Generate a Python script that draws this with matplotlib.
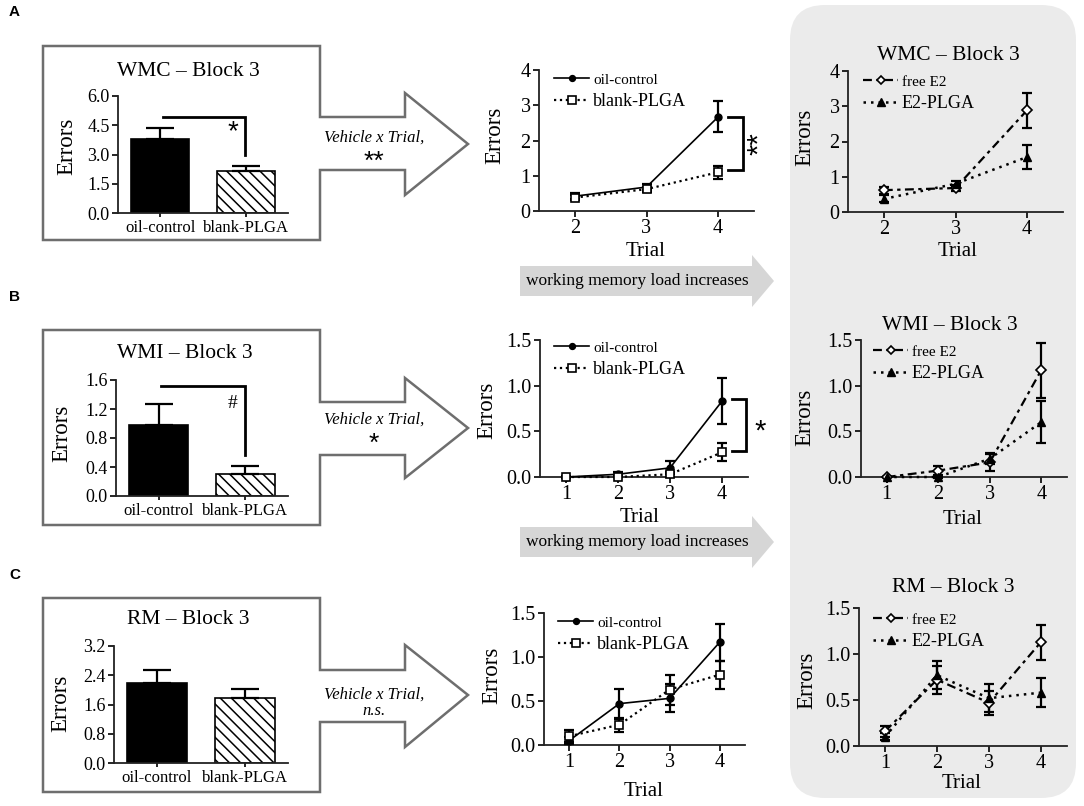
import matplotlib
matplotlib.use('Agg')
import matplotlib.pyplot as plt
from matplotlib.patches import Polygon, FancyBboxPatch
import numpy as np

W, H = 1084, 806
plt.rcParams['font.family'] = ['Liberation Serif', 'DejaVu Serif']
plt.rcParams['hatch.linewidth'] = 1.1

# ---------------- data ----------------
bar_groups = ['oil-control', 'blank-PLGA']
wmc_bar_mean = [3.79, 2.15]
wmc_bar_sem = [0.57, 0.26]
wmi_bar_mean = [0.98, 0.30]
wmi_bar_sem = [0.29, 0.11]
rm_bar_mean = [2.19, 1.78]
rm_bar_sem = [0.35, 0.25]

wmc_trials = [2, 3, 4]
wmc_oil = [0.42, 0.68, 2.67]
wmc_oil_err = [0.08, 0.08, 0.44]
wmc_blank = [0.38, 0.62, 1.10]
wmc_blank_err = [0.07, 0.07, 0.19]
wmc_free = [0.62, 0.68, 2.89]
wmc_free_err = [0.10, 0.08, 0.50]
wmc_e2plga = [0.37, 0.80, 1.56]
wmc_e2plga_err = [0.10, 0.08, 0.33]

trials = [1, 2, 3, 4]
wmi_oil = [0.00, 0.03, 0.10, 0.83]
wmi_oil_err = [0.01, 0.02, 0.07, 0.25]
wmi_blank = [0.00, 0.00, 0.03, 0.27]
wmi_blank_err = [0.00, 0.00, 0.03, 0.10]
wmi_free = [0.00, 0.07, 0.16, 1.17]
wmi_free_err = [0.00, 0.05, 0.09, 0.30]
wmi_e2plga = [0.00, 0.00, 0.20, 0.60]
wmi_e2plga_err = [0.00, 0.01, 0.06, 0.23]

rm_oil = [0.05, 0.47, 0.53, 1.17]
rm_oil_err = [0.04, 0.17, 0.16, 0.21]
rm_blank = [0.10, 0.23, 0.63, 0.80]
rm_blank_err = [0.07, 0.08, 0.17, 0.16]
rm_free = [0.16, 0.72, 0.47, 1.13]
rm_free_err = [0.06, 0.15, 0.13, 0.19]
rm_e2plga = [0.10, 0.77, 0.52, 0.58]
rm_e2plga_err = [0.04, 0.15, 0.15, 0.16]

# ---------------- figure ----------------
fig = plt.figure(figsize=(W / 100, H / 100), dpi=100)
bg = fig.add_axes([0, 0, 1, 1])
bg.set_xlim(0, W)
bg.set_ylim(H, 0)
bg.axis('off')
bg.set_zorder(0)

OUT = '#6e6e6e'
# grey background panel on the right
bg.add_patch(FancyBboxPatch((790, 5), 286, 793,
                            boxstyle='round,pad=0,rounding_size=35',
                            fc='#ebebeb', ec='none'))


def box_arrow(top, bottom, stem_top, stem_bot, head_top, head_bot, tip_y):
    pts = [(43, top), (320, top), (320, stem_top), (405, stem_top),
           (405, head_top), (468, tip_y), (405, head_bot), (405, stem_bot),
           (320, stem_bot), (320, bottom), (43, bottom)]
    bg.add_patch(Polygon(pts, closed=True, fc='white', ec=OUT, lw=1.8,
                         joinstyle='miter'))


box_arrow(46, 240, 117, 170, 93, 195, 144)
box_arrow(330, 525, 402, 455, 378, 478, 428)
box_arrow(598, 792, 670, 722, 645, 747, 695)


def load_arrow(cy):
    pts = [(520, cy - 15), (752, cy - 15), (752, cy - 26), (774, cy),
           (752, cy + 26), (752, cy + 15), (520, cy + 15)]
    bg.add_patch(Polygon(pts, closed=True, fc='#d6d6d6', ec='none'))
    bg.text(637, cy, 'working memory load increases', ha='center',
            va='center', fontsize=12.5)


load_arrow(281)
load_arrow(542)

# panel letters
for lab, y in [('A', 12), ('B', 297), ('C', 575)]:
    bg.text(9, y, lab, fontsize=11, fontweight='bold', va='center',
            ha='left', family='Liberation Sans')

# arrow texts
for y, stat in [(138, '**'), (420, '*'), (695, 'n.s.')]:
    bg.text(374, y, 'Vehicle x Trial,', ha='center', va='center',
            fontsize=12, style='italic')
    if stat == 'n.s.':
        bg.text(374, y + 16, stat, ha='center', va='center', fontsize=12,
                style='italic')
    else:
        bg.text(374, y + 24, stat, ha='center', va='center', fontsize=19,
                family='Liberation Sans')


def px_axes(left, top, right, bottom):
    ax = fig.add_axes([left / W, 1 - bottom / H, (right - left) / W,
                       (bottom - top) / H])
    ax.set_facecolor('none')
    ax.set_zorder(2)
    for s in ['top', 'right']:
        ax.spines[s].set_visible(False)
    for s in ['left', 'bottom']:
        ax.spines[s].set_linewidth(1.3)
        ax.spines[s].set_color('#222222')
    return ax


def place_labels(ax, ylab_xy, xlab_xy=None, xlabel=None, ysize=16.5, xsize=15):
    ax.set_ylabel('Errors', fontsize=ysize)
    ax.yaxis.label.set_verticalalignment('center')
    ax.yaxis.set_label_coords(ylab_xy[0], ylab_xy[1], transform=bg.transData)
    if xlabel is not None:
        ax.set_xlabel(xlabel, fontsize=xsize)
        ax.xaxis.label.set_verticalalignment('center')
        ax.xaxis.set_label_coords(xlab_xy[0], xlab_xy[1],
                                  transform=bg.transData)


def bar_panel(rect, means, sems, ymax, step, title, title_xy, ylab_xy):
    ax = px_axes(*rect)
    x = np.arange(len(bar_groups))
    bars = ax.bar(x, means, width=0.68, color=['black', 'white'],
                  edgecolor='black', linewidth=1.2, zorder=2)
    bars[1].set_hatch('\\\\\\')
    ax.errorbar(x, means, yerr=[np.zeros(len(sems)), sems], fmt='none',
                ecolor='black', elinewidth=1.6, capsize=10, capthick=1.6,
                zorder=3)
    ax.set_xlim(-0.49, 1.49)
    ax.set_ylim(0, ymax)
    ticks = np.arange(0, ymax + step / 2, step)
    ax.set_yticks(ticks)
    ax.set_yticklabels(['%.1f' % t for t in ticks])
    ax.set_xticks(x)
    ax.set_xticklabels(bar_groups)
    ax.tick_params(axis='y', direction='out', length=4, width=1.2,
                   labelsize=13, pad=2)
    ax.tick_params(axis='x', direction='out', length=3, width=1.2,
                   labelsize=12, pad=2)
    place_labels(ax, ylab_xy)
    bg.text(title_xy[0], title_xy[1], title, ha='center', va='center',
            fontsize=15.5)
    return ax


axA1 = bar_panel((118, 96, 288, 213), wmc_bar_mean, wmc_bar_sem, 6.0, 1.5,
                 'WMC – Block 3', (188, 72), (67, 146))
axB1 = bar_panel((116, 380, 288, 496), wmi_bar_mean, wmi_bar_sem, 1.6, 0.4,
                 'WMI – Block 3', (185, 353), (62, 433))
axC1 = bar_panel((114, 646, 288, 763), rm_bar_mean, rm_bar_sem, 3.2, 0.8,
                 'RM – Block 3', (188, 620), (61, 703))

# significance brackets in bar charts
axA1.plot([0.03, 0.99, 0.99], [4.92, 4.92, 2.97], color='black', lw=2,
          clip_on=False, solid_joinstyle='miter')
axA1.text(0.85, 4.15, '*', ha='center', va='center', fontsize=20,
          family='Liberation Sans')
axB1.plot([0.03, 0.99, 0.99], [1.52, 1.52, 0.56], color='black', lw=2,
          clip_on=False, solid_joinstyle='miter')
axB1.text(0.85, 1.27, '#', ha='center', va='center', fontsize=14)


def line_panel(rect, xs, s1, e1, s2, e2, labels, styles, xlim, ymax, yticks,
               yfmt, ylab_xy, xlab_xy, leg_xy, title=None, title_xy=None):
    ax = px_axes(*rect)
    handles = []
    for s, e, lab, st in zip([s1, s2], [e1, e2], labels, styles):
        ax.errorbar(xs, s, yerr=e, fmt='none', ecolor='black', elinewidth=1.6,
                    capsize=3.5, capthick=1.6, zorder=3, clip_on=False)
        h, = ax.plot(xs, s, color='black', label=lab, zorder=4,
                     clip_on=False, **st)
        handles.append(h)
    ax.set_xlim(*xlim)
    ax.set_ylim(0, ymax)
    ax.set_xticks(xs)
    ax.set_yticks(yticks)
    ax.set_yticklabels([yfmt % t for t in yticks])
    ax.tick_params(axis='both', direction='out', length=4, width=1.2,
                   labelsize=14.5, pad=2)
    place_labels(ax, ylab_xy, xlab_xy, 'Trial')
    leg = ax.legend(handles=handles, loc='upper left',
                    bbox_to_anchor=(leg_xy[0] / W, 1 - leg_xy[1] / H),
                    bbox_transform=fig.transFigure, frameon=False,
                    borderpad=0, borderaxespad=0, handlelength=2.3,
                    handletextpad=0.25, labelspacing=0.4, fontsize=11,
                    markerscale=0.85)
    leg.get_texts()[1].set_fontsize(13)
    if title:
        bg.text(title_xy[0], title_xy[1], title, ha='center', va='center',
                fontsize=15.5)
    return ax


veh_styles = [dict(ls='-', lw=1.2, marker='o', ms=5, mfc='black'),
              dict(ls=':', lw=1.6, marker='s', ms=6, mfc='white',
                   mec='black', mew=1.2)]
e2_styles = [dict(ls=(0, (4, 2, 1.5, 2)), lw=1.6, marker='D', ms=5,
                  mfc='white', mec='black', mew=1.2),
             dict(ls=(0, (1, 2)), lw=1.8, marker='^', ms=6, mfc='black')]
veh_labels = ['oil-control', 'blank-PLGA']
e2_labels = ['free E2', 'E2-PLGA']

# Panel A
axA2 = line_panel((539, 70, 754, 211), wmc_trials, wmc_oil, wmc_oil_err,
                  wmc_blank, wmc_blank_err, veh_labels, veh_styles,
                  (1.5, 4.5), 4, [0, 1, 2, 3, 4], '%d', (495, 135),
                  (646, 251), (554, 73))
axA3 = line_panel((848, 71, 1063, 212), wmc_trials, wmc_free, wmc_free_err,
                  wmc_e2plga, wmc_e2plga_err, e2_labels, e2_styles,
                  (1.5, 4.5), 4, [0, 1, 2, 3, 4], '%d', (805, 137),
                  (958, 251), (863, 75), 'WMC – Block 3', (948, 55))
# Panel B
axB2 = line_panel((540, 340, 748, 477), trials, wmi_oil, wmi_oil_err,
                  wmi_blank, wmi_blank_err, veh_labels, veh_styles,
                  (0.5, 4.5), 1.5, [0, 0.5, 1.0, 1.5], '%.1f', (487, 410),
                  (640, 518), (554, 341))
axB3 = line_panel((861, 340, 1067, 477), trials, wmi_free, wmi_free_err,
                  wmi_e2plga, wmi_e2plga_err, e2_labels, e2_styles,
                  (0.5, 4.5), 1.5, [0, 0.5, 1.0, 1.5], '%.1f', (805, 417),
                  (963, 520), (873, 345), 'WMI – Block 3', (950, 326))
# Panel C
axC2 = line_panel((544, 613, 745, 745), trials, rm_oil, rm_oil_err,
                  rm_blank, rm_blank_err, veh_labels, veh_styles,
                  (0.5, 4.5), 1.5, [0, 0.5, 1.0, 1.5], '%.1f', (492, 675),
                  (644, 792), (558, 616))
axC3 = line_panel((859, 608, 1067, 746), trials, rm_free, rm_free_err,
                  rm_e2plga, rm_e2plga_err, e2_labels, e2_styles,
                  (0.5, 4.5), 1.5, [0, 0.5, 1.0, 1.5], '%.1f', (807, 680),
                  (962, 783), (873, 613), 'RM – Block 3', (953, 587))

# significance brackets in line plots
axA2.plot([4.14, 4.35, 4.35, 4.14], [2.67, 2.67, 1.17, 1.17], color='black',
          lw=2, clip_on=False, solid_joinstyle='miter')
axA2.text(4.57, 1.92, '**', rotation=90, ha='center', va='center',
          fontsize=21, family='Liberation Sans')
axB2.plot([4.19, 4.47, 4.47, 4.19], [0.85, 0.85, 0.29, 0.29], color='black',
          lw=2, clip_on=False, solid_joinstyle='miter')
axB2.text(4.73, 0.5, '*', ha='center', va='center', fontsize=21,
          family='Liberation Sans')

fig.savefig('out.png', dpi=100)
